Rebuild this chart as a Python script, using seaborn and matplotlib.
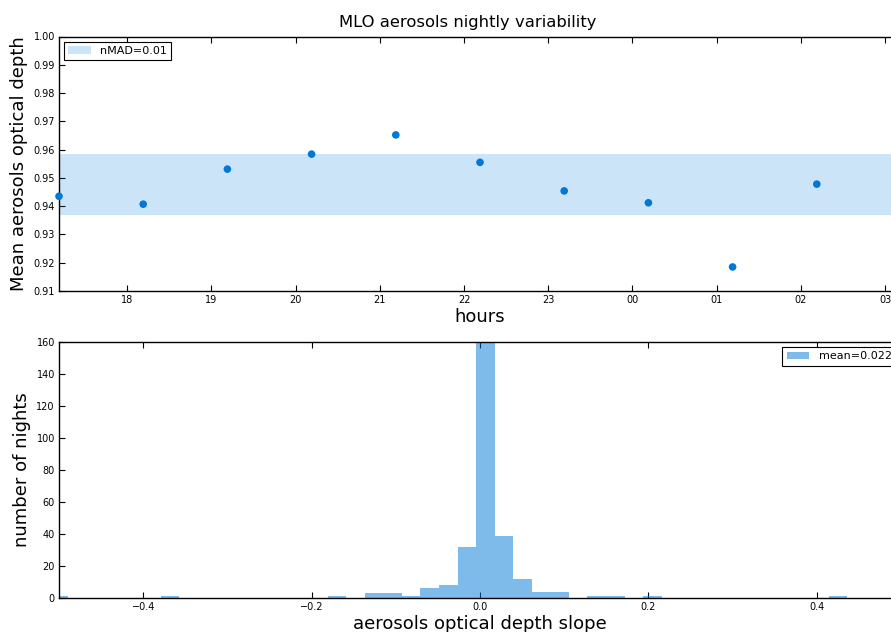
import numpy as np
import pandas as pd
import matplotlib
matplotlib.use("Agg")
import matplotlib.pyplot as plt
import seaborn as sns

sns.set_theme(style="white")
plt.rcParams["font.family"] = ["DejaVu Sans"]
plt.rcParams["text.color"] = "black"
plt.rcParams["axes.labelcolor"] = "black"

# top panel: nightly mean AOD, one point per hour (hours after midnight continue past 24)
hours = [17.19, 18.19, 19.19, 20.19, 21.19, 22.19, 23.19, 24.19, 25.19, 26.19]
mean_aod = [0.9435, 0.9407, 0.9531, 0.9584, 0.9652, 0.9555, 0.9454, 0.9412, 0.9185, 0.9478]
band_center = 0.9476
band_halfwidth = 0.0108
hour_ticks = [18, 19, 20, 21, 22, 23, 24, 25, 26, 27]
hour_labels = ["18", "19", "20", "21", "22", "23", "00", "01", "02", "03"]

# bottom panel: histogram of nightly slopes
bin_edges = list(np.linspace(-0.5113, 0.4360, 44))
bin_counts = [1, 0, 0, 0, 0, 0, 1, 0, 0, 0, 0, 0, 0, 0, 0, 1, 0, 3, 3, 1, 6, 8, 32,
              172, 39, 12, 4, 4, 0, 1, 1, 0, 1, 0, 0, 0, 0, 0, 0, 0, 0, 0, 1]
slope_mean_label = "mean=0.022"

blue = "#0078d7"

df_top = pd.DataFrame({"hour": hours, "aod": mean_aod})
centers = [(a + b) / 2 for a, b in zip(bin_edges[:-1], bin_edges[1:])]
df_hist = pd.DataFrame({"slope": centers, "count": bin_counts})

fig = plt.figure(figsize=(8.91, 6.32), dpi=100)
ax1 = fig.add_axes([59 / 891, 1 - 291 / 632, 842 / 891, 254.5 / 632])
ax2 = fig.add_axes([59 / 891, 1 - 598 / 632, 842 / 891, 256 / 632])

leg_kw = dict(fontsize=8, fancybox=False, framealpha=1, edgecolor="black",
              borderaxespad=0.45, handlelength=2.0, handletextpad=0.85,
              borderpad=0.4)

# --- top: scatter + nMAD band
ax1.axhspan(band_center - band_halfwidth, band_center + band_halfwidth,
            color=blue, alpha=0.2, lw=0, label="nMAD=0.01")
sns.scatterplot(data=df_top, x="hour", y="aod", ax=ax1, color=blue,
                s=30, edgecolor="none", zorder=3, clip_on=False)
ax1.set_xlim(hours[0], hours[0] + 10)
ax1.set_ylim(0.91, 1.00)
ax1.set_xticks(hour_ticks)
ax1.set_xticklabels(hour_labels)
ax1.set_yticks(np.arange(0.91, 1.001, 0.01))
ax1.set_yticklabels([f"{v:.2f}" for v in np.arange(0.91, 1.001, 0.01)])
ax1.set_xlabel("hours", fontsize=13, labelpad=2)
ax1.set_ylabel("Mean aerosols optical depth", fontsize=13)
ax1.set_title("MLO aerosols nightly variability", fontsize=11.8, pad=7, x=0.485)
leg1 = ax1.legend(loc="upper left", **leg_kw)
leg1.get_frame().set_linewidth(0.8)

# --- bottom: histogram
sns.histplot(data=df_hist, x="slope", weights="count", bins=bin_edges, ax=ax2,
             color=blue, alpha=0.5, linewidth=0, label=slope_mean_label)
ax2.set_xlim(-0.5, 0.5)
ax2.set_ylim(0, 160)
ax2.set_xticks([-0.4, -0.2, 0.0, 0.2, 0.4])
ax2.set_yticks(np.arange(0, 161, 20))
ax2.set_xlabel("aerosols optical depth slope", fontsize=13, labelpad=2)
ax2.set_ylabel("number of nights", fontsize=13)
leg2 = ax2.legend(loc="upper right", **leg_kw)
leg2.get_frame().set_linewidth(0.8)

for ax in (ax1, ax2):
    ax.tick_params(direction="in", length=4, width=0.8, labelsize=7, pad=3,
                   top=True, right=True, bottom=True, left=True, colors="black")
    for sp in ax.spines.values():
        sp.set_color("black")
        sp.set_linewidth(1)

fig.savefig("out.png", dpi=100)
